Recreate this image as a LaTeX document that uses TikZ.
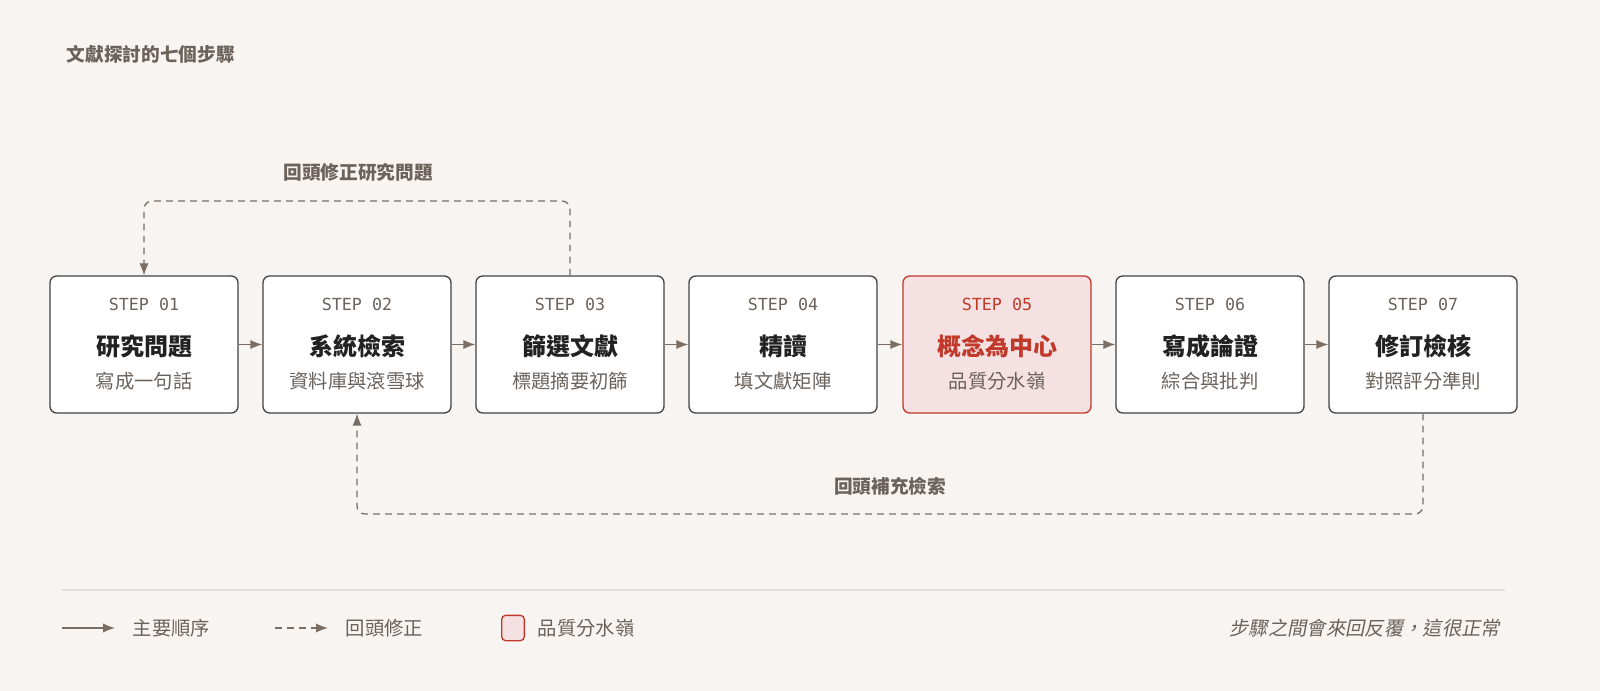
\documentclass[tikz,border=0pt]{standalone}
\usepackage{fontspec}
\setmainfont{Noto Sans CJK TC}
\newfontfamily\cjki{Noto Sans CJK TC}[FakeSlant=0.2]
\newfontfamily\monof{DejaVu Sans Mono}
\usetikzlibrary{arrows.meta}
\definecolor{bg}{HTML}{F8F4F1}
\definecolor{ln}{HTML}{7A6E64}
\definecolor{gt}{HTML}{6B625B}
\definecolor{dk}{HTML}{222222}
\definecolor{rd}{HTML}{C0392B}
\definecolor{rf}{HTML}{F5E1E1}
\begin{document}
\begin{tikzpicture}[x=0.75pt,y=-0.75pt,
  box/.style={draw=dk!85,fill=white,rounded corners=5pt,line width=1pt,minimum width=141pt,minimum height=102.75pt,inner sep=0},
  hot/.style={box,draw=rd,fill=rf},
  st/.style={font=\monof\fontsize{12.5}{12.5}\selectfont,text=gt},
  tt/.style={font=\bfseries\fontsize{18}{18}\selectfont,text=dk},
  sb/.style={font=\fontsize{14.5}{14.5}\selectfont,text=gt},
  lb/.style={font=\bfseries\fontsize{14}{14}\selectfont,text=gt},
  lg/.style={anchor=west,font=\fontsize{14.5}{14.5}\selectfont,text=gt},
  arr/.style={draw=ln,line width=1pt,-{Latex[length=9pt,width=7pt]}},
  dsh/.style={arr,dash pattern=on 5pt off 4pt,rounded corners=6pt}]
\fill[bg] (0,0) rectangle (1600,691);
\useasboundingbox (0,0) rectangle (1600,691);
\node[anchor=west,font=\bfseries\fontsize{14}{14}\selectfont,text=gt] (title) at (62,54) {文獻探討的七個步驟};
\foreach \i/\x/\t/\s in {1/144/研究問題/寫成一句話,2/357/系統檢索/資料庫與滾雪球,3/570/篩選文獻/標題摘要初篩,4/783/精讀/填文獻矩陣,6/1210/寫成論證/綜合與批判,7/1423/修訂檢核/對照評分準則}{
  \node[box] (b\i) at (\x,344.5) {};
  \node[st] (s\i) at (\x,304) {STEP 0\i};
  \node[tt] (t\i) at (\x,346) {\t};
  \node[sb] (u\i) at (\x,381) {\s};
}
\node[hot] (b5) at (997,344.5) {};
\node[st,text=rd] (s5) at (997,304) {STEP 05};
\node[tt,text=rd] (t5) at (997,346) {概念為中心};
\node[sb] (u5) at (997,381) {品質分水嶺};
\foreach \a/\b in {1/2,2/3,3/4,4/5,5/6,6/7}{\draw[arr] (b\a) -- (b\b);}
\draw[dsh] (b3.north) -- (570,201) -- (144,201) -- (b1.north);
\node[lb] (l1) at (358,172) {回頭修正研究問題};
\draw[dsh] (b7.south) -- (1423,514) -- (357,514) -- (b2.south);
\node[lb] (l2) at (890,486) {回頭補充檢索};
\draw[draw=black!12,line width=1pt] (62,590) -- (1505,590);
\coordinate (a1) at (62,628); \coordinate (a2) at (115,628);
\draw[arr] (a1) -- (a2);
\node[lg] (m1) at (128,628) {主要順序};
\coordinate (c1) at (275,628); \coordinate (c2) at (328,628);
\draw[arr,dash pattern=on 5pt off 4pt] (c1) -- (c2);
\node[lg] (m2) at (341,628) {回頭修正};
\node[draw=rd,fill=rf,rounded corners=3pt,line width=1pt,minimum width=17pt,minimum height=19pt,inner sep=0] (m3b) at (513,628) {};
\node[lg] (m3) at (533,628) {品質分水嶺};
\node[anchor=east,font=\cjki\fontsize{14.5}{14.5}\selectfont,text=gt] (note) at (1505,628) {步驟之間會來回反覆，這很正常};
\end{tikzpicture}
\end{document}
